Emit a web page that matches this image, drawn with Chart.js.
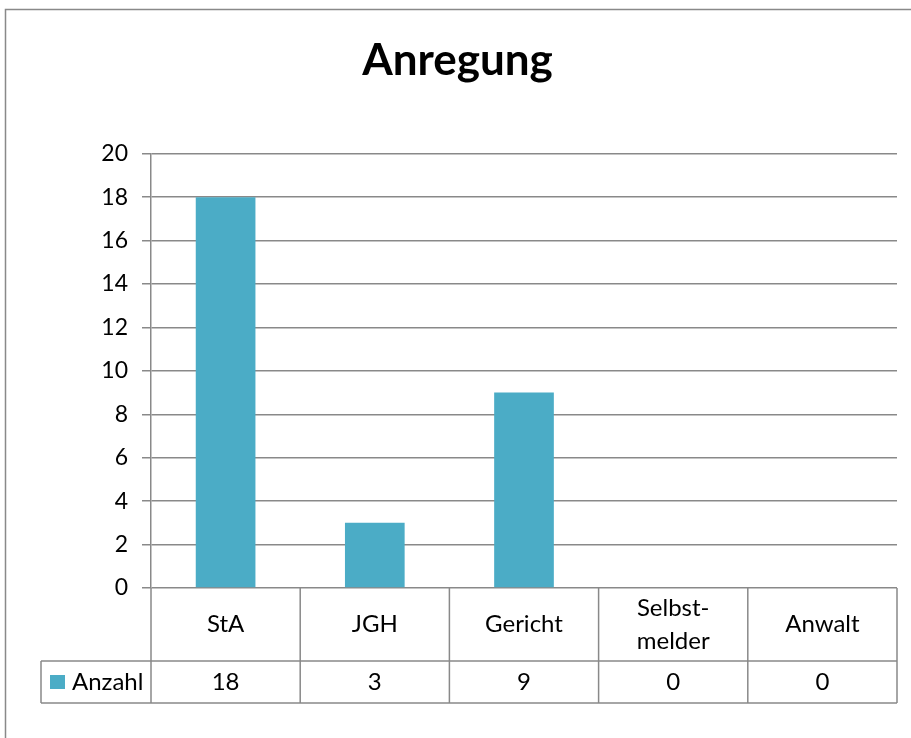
<!DOCTYPE html>
<html lang="de">
<head>
  <meta charset="UTF-8" />
  <title>Anregung</title>
  <script src="https://cdn.jsdelivr.net/npm/chart.js"></script>
  <style>
    html, body {
      margin: 0;
      padding: 0;
      background: #fff;
    }
    .chart-box {
      width: 911px;
      height: 738px;
      position: relative;
    }
  </style>
</head>
<body>
  <div class="chart-box">
    <canvas id="anregungChart"></canvas>
  </div>

  <script>
    // Data
    const categories = ['StA', 'JGH', 'Gericht', ['Selbst-', 'melder'], 'Anwalt'];
    const anzahl = [18, 3, 9, 0, 0];
    const seriesLabel = 'Anzahl';
    const yMin = 0;
    const yMax = 20;
    const yStep = 2;

    const barColor = '#4BACC6';
    const lineColor = '#898989';
    const fontFamily = 'Lato, "Open Sans", sans-serif';

    // Outer frame of the chart object
    const framePlugin = {
      id: 'frame',
      beforeDraw(chart) {
        const ctx = chart.ctx;
        ctx.save();
        ctx.fillStyle = '#fff';
        ctx.fillRect(0, 0, chart.width, chart.height);
        ctx.strokeStyle = lineColor;
        ctx.lineWidth = 1.5;
        ctx.strokeRect(5.5, 9.5, chart.width + 20, chart.height + 20);
        ctx.restore();
      }
    };

    // Excel-style data table under the x axis
    const dataTablePlugin = {
      id: 'dataTable',
      afterDraw(chart) {
        const { ctx, chartArea: a, scales: { x } } = chart;
        const n = categories.length;
        const cw = (a.right - a.left) / n;
        const row1 = a.bottom + 73;
        const row2 = row1 + 42;
        const legendLeft = 41;

        ctx.save();
        ctx.strokeStyle = lineColor;
        ctx.lineWidth = 1.5;
        ctx.beginPath();
        for (let i = 0; i <= n; i++) {
          const px = a.left + i * cw;
          ctx.moveTo(px, a.bottom);
          ctx.lineTo(px, row2);
        }
        ctx.moveTo(legendLeft, row1);
        ctx.lineTo(a.right, row1);
        ctx.moveTo(legendLeft, row2);
        ctx.lineTo(a.right, row2);
        ctx.moveTo(legendLeft, row1);
        ctx.lineTo(legendLeft, row2);
        ctx.stroke();

        ctx.fillStyle = '#000';
        ctx.font = '24px ' + fontFamily;
        ctx.textAlign = 'center';
        ctx.textBaseline = 'middle';
        const midCat = (a.bottom + row1) / 2;
        const midVal = (row1 + row2) / 2;
        categories.forEach((c, i) => {
          const cx = x.getPixelForValue(i);
          const lines = [].concat(c);
          lines.forEach((l, j) => {
            ctx.fillText(l, cx, midCat + (j - (lines.length - 1) / 2) * 33);
          });
          ctx.fillText(String(anzahl[i]), cx, midVal);
        });

        // legend key inside the table
        const ds = chart.data.datasets[0];
        ctx.fillStyle = ds.backgroundColor;
        ctx.fillRect(50, midVal - 7, 15, 14);
        ctx.fillStyle = '#000';
        ctx.textAlign = 'left';
        ctx.fillText(ds.label, 72, midVal);
        ctx.restore();
      }
    };

    const ctx = document.getElementById('anregungChart').getContext('2d');
    new Chart(ctx, {
      type: 'bar',
      data: {
        labels: categories,
        datasets: [{
          label: seriesLabel,
          data: anzahl,
          backgroundColor: barColor,
          borderWidth: 0,
          categoryPercentage: 1,
          barPercentage: 0.4
        }]
      },
      options: {
        responsive: true,
        maintainAspectRatio: false,
        animation: false,
        layout: {
          // left padding shifts the title centre to match the reference
          padding: { left: 18, right: 14, top: 0, bottom: 150 }
        },
        plugins: {
          legend: { display: false },
          tooltip: { enabled: false },
          title: {
            display: true,
            text: 'Anregung',
            color: '#000',
            font: { family: fontFamily, size: 44, weight: 'bold', lineHeight: 1.2 },
            padding: { top: 34, bottom: 67 }
          }
        },
        scales: {
          x: {
            display: false
          },
          y: {
            min: yMin,
            max: yMax,
            ticks: {
              stepSize: yStep,
              color: '#000',
              padding: 14,
              font: { family: fontFamily, size: 23 }
            },
            grid: {
              color: lineColor,
              lineWidth: 1.5,
              tickLength: 9
            },
            border: {
              color: lineColor,
              width: 1.5
            },
            afterFit(scale) {
              scale.width = 133;
            }
          }
        }
      },
      plugins: [framePlugin, dataTablePlugin]
    });
  </script>
</body>
</html>
